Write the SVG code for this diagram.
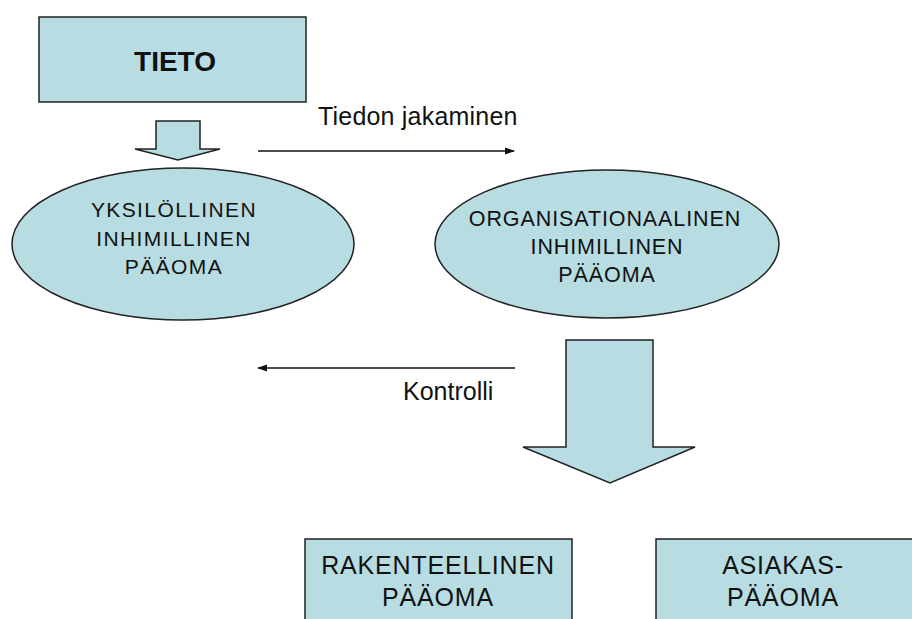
<svg xmlns="http://www.w3.org/2000/svg" width="912" height="619" viewBox="0 0 912 619">
<style>
.shape{fill:#b7dde2;stroke:#222;stroke-width:1.5}
.t{font-family:"Liberation Sans",Arial,sans-serif;fill:#111;text-anchor:middle}
.lbl{font-family:"Liberation Sans",Arial,sans-serif;fill:#111;font-size:25px}
.conn{stroke:#111;stroke-width:1.5;fill:none}
</style>
<defs>
<marker id="ah" viewBox="0 0 10 10" refX="9" refY="5" markerWidth="10" markerHeight="8" orient="auto" markerUnits="userSpaceOnUse" preserveAspectRatio="none">
<path d="M0,0.5 L10,5 L0,9.5 Z" fill="#111"/>
</marker>
</defs>
<rect width="912" height="619" fill="#fff"/>
<g id="tieto">
<rect class="shape" x="39" y="17" width="267" height="85"/>
<text class="t" x="175" y="71" font-size="28" font-weight="bold">TIETO</text>
</g>
<g id="arrow-small">
<polygon class="shape" points="156,121 200,121 200,149 220,149 178,160 135,149 156,149"/>
</g>
<g id="yksilollinen">
<ellipse class="shape" cx="183" cy="244" rx="171" ry="76"/>
<text class="t" font-size="21" letter-spacing="1.4"><tspan x="174" y="217">YKSILÖLLINEN</tspan><tspan x="174" y="246">INHIMILLINEN</tspan><tspan x="174" y="274">PÄÄOMA</tspan></text>
</g>
<g id="organisationaalinen">
<ellipse class="shape" cx="607" cy="244" rx="172" ry="74"/>
<text class="t" font-size="21.5" letter-spacing="0.9"><tspan x="605" y="226">ORGANISATIONAALINEN</tspan><tspan x="607" y="254">INHIMILLINEN</tspan><tspan x="607" y="282">PÄÄOMA</tspan></text>
</g>
<g id="arrow-big">
<polygon class="shape" points="566,340 653,340 653,447 695,447 610,483 523,447 566,447"/>
</g>
<g id="rakenteellinen">
<rect class="shape" x="305" y="539" width="267" height="100"/>
<text class="t" font-size="25" letter-spacing="0.8"><tspan x="438" y="574">RAKENTEELLINEN</tspan><tspan x="438" y="606">PÄÄOMA</tspan></text>
</g>
<g id="asiakas">
<rect class="shape" x="656" y="539" width="280" height="100"/>
<text class="t" font-size="25" letter-spacing="0.8"><tspan x="783" y="574">ASIAKAS-</tspan><tspan x="783" y="606">PÄÄOMA</tspan></text>
</g>
<g id="connectors">
<line class="conn" x1="258" y1="151" x2="514" y2="151" marker-end="url(#ah)"/>
<text class="lbl" x="318" y="125" letter-spacing="0.2">Tiedon jakaminen</text>
<line class="conn" x1="515" y1="368" x2="258" y2="368" marker-end="url(#ah)"/>
<text class="lbl" x="403" y="400">Kontrolli</text>
</g>
</svg>
